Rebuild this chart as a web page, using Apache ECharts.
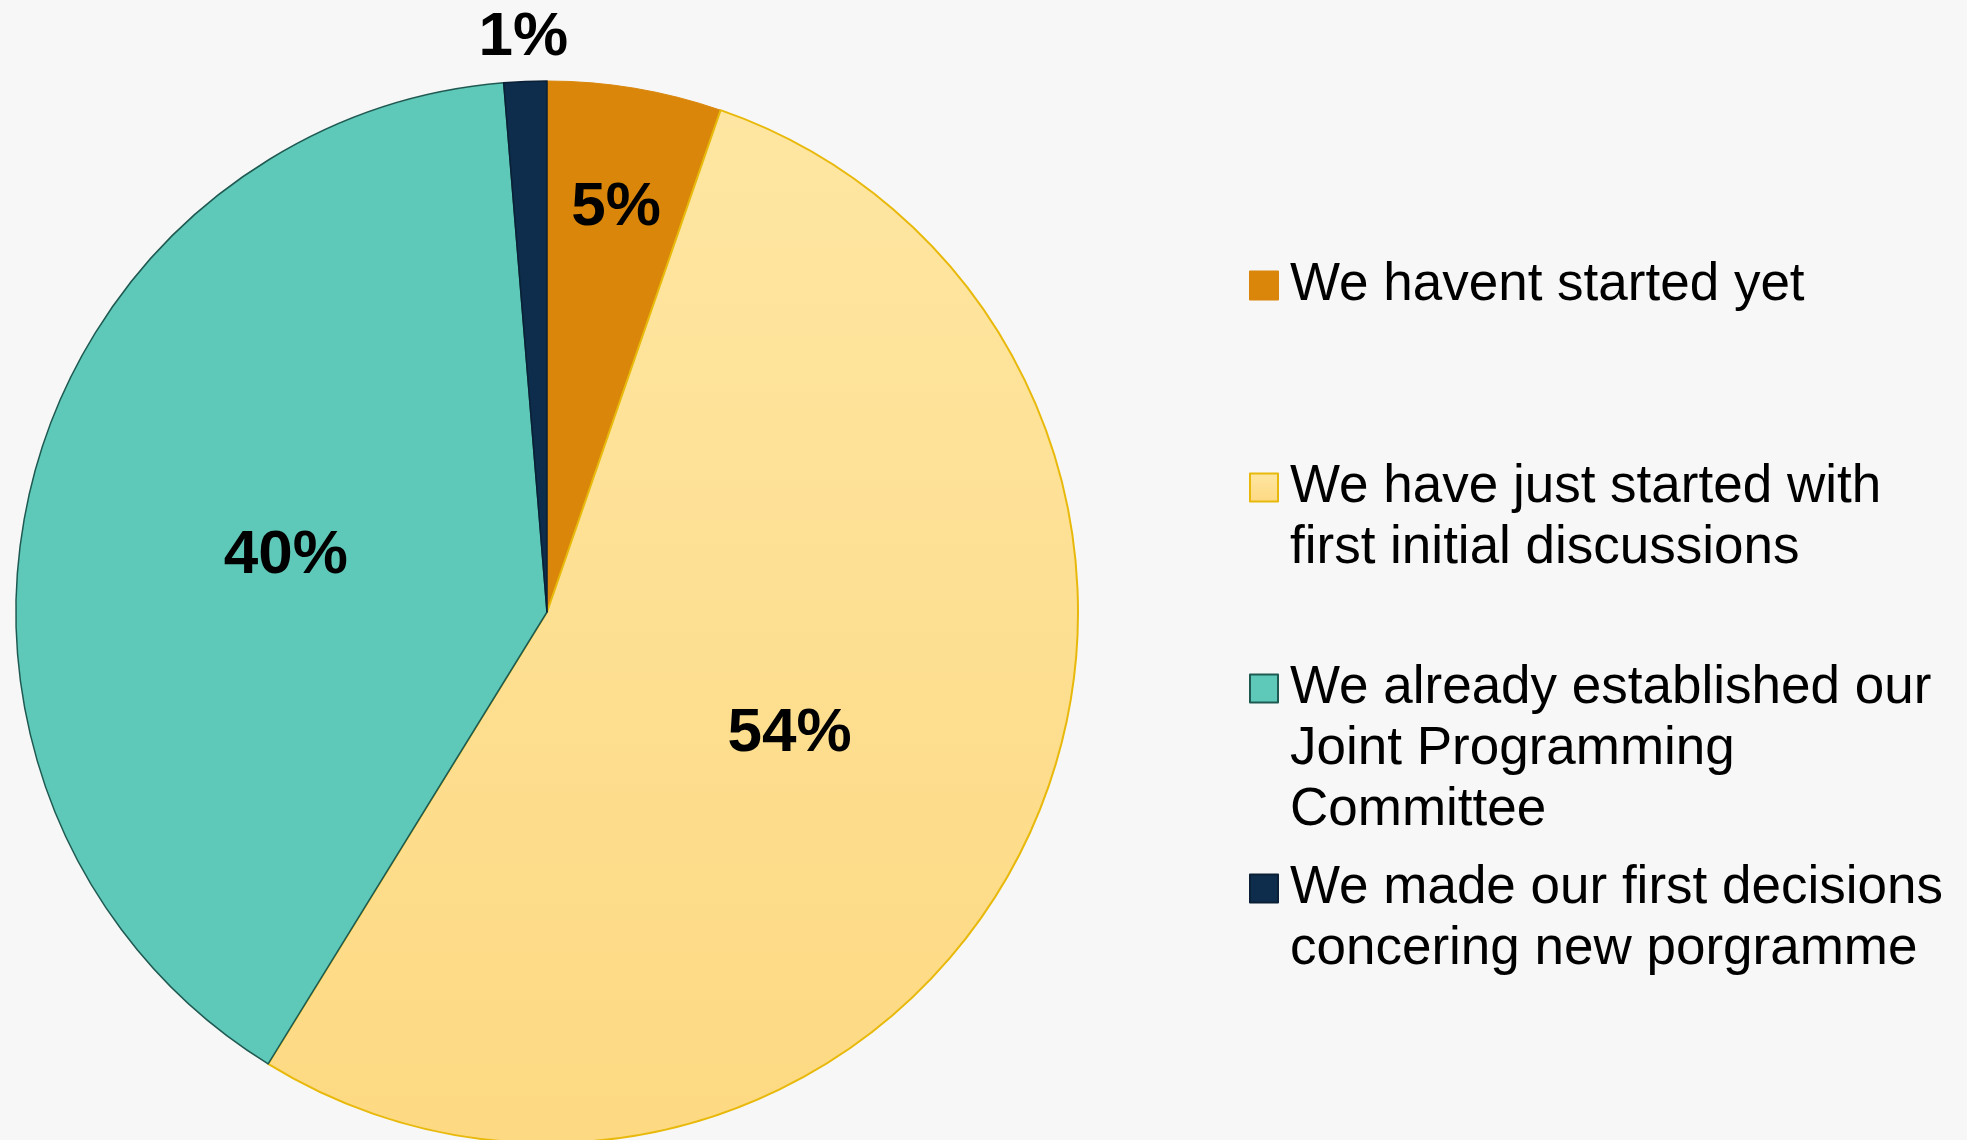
<!DOCTYPE html>
<html><head><meta charset="utf-8">
<script src="https://cdn.jsdelivr.net/npm/echarts@6/dist/echarts.min.js"></script>
<style>html,body{margin:0;padding:0;background:#F7F7F7}#c{width:1967px;height:1140px}</style>
</head><body><div id="c"></div>
<script>
// ---- data ----
const categories = [
  "We havent started yet",
  "We have just started with\nfirst initial discussions",
  "We already established our\nJoint Programming\nCommittee",
  "We made our first decisions\nconcering new porgramme"
];
const values = [5.3, 53.5, 39.9, 1.3];

// ---- styling / layout ----
const fills = [
  '#D9860A',
  {type:'linear', x:0, y:0, x2:0, y2:1, colorStops:[{offset:0,color:'#FEE6A2'},{offset:1,color:'#FDD982'}]},
  '#5EC9B9',
  '#0E2C4B'
];
const borders = ['#D9860A', '#E8B90A', '#1F5A52', '#0A2036'];
const borderWidths = [1, 2, 1.5, 1.5];
const R = 531;
const labelRadiusFactor = [0.78, 0.5, 0.5, 1.09];
const labelDrop = 7;
const legendTops = [251, 392, 532, 793];

const total = values.reduce((a,b)=>a+b,0);
const chart = echarts.init(document.getElementById('c'));
chart.setOption({
  backgroundColor:'#F7F7F7',
  animation:false,
  legend: categories.map((name,i)=>({
    data:[name], orient:'vertical', left:1249, top:legendTops[i], padding:0,
    itemWidth:28, itemHeight:28, icon:'rect', selectedMode:false,
    formatter: n => '\n'.repeat(n.split('\n').length-1) + n,
    textStyle:{fontFamily:'Liberation Sans, Arial, sans-serif', fontSize:53, lineHeight:61, color:'#000', padding:[8,0,0,7]}
  })),
  series:[{
    type:'pie',
    center:[547,612],
    radius:[0,R],
    startAngle:90,
    clockwise:true,
    avoidLabelOverlap:false,
    emphasis:{disabled:true},
    data: categories.map((name,i)=>({
      name, value: values[i],
      itemStyle:{color:fills[i], borderColor:borders[i], borderWidth:borderWidths[i]}
    })),
    label:{
      show:true, position:'inside',
      formatter: p => Math.round(p.percent) + '%',
      fontFamily:'Liberation Sans, Arial, sans-serif', fontWeight:'bold', fontSize:62, color:'#000'
    },
    labelLine:{show:false},
    labelLayout: function(p){
      const i = p.dataIndex;
      let cum = 0; for (let k=0;k<i;k++) cum += values[k];
      const mid = (cum + values[i]/2)/total*2*Math.PI;
      const d = (labelRadiusFactor[i]-0.5)*R;
      return {dx: d*Math.sin(mid), dy: -d*Math.cos(mid) + labelDrop};
    }
  }]
});
</script></body></html>
